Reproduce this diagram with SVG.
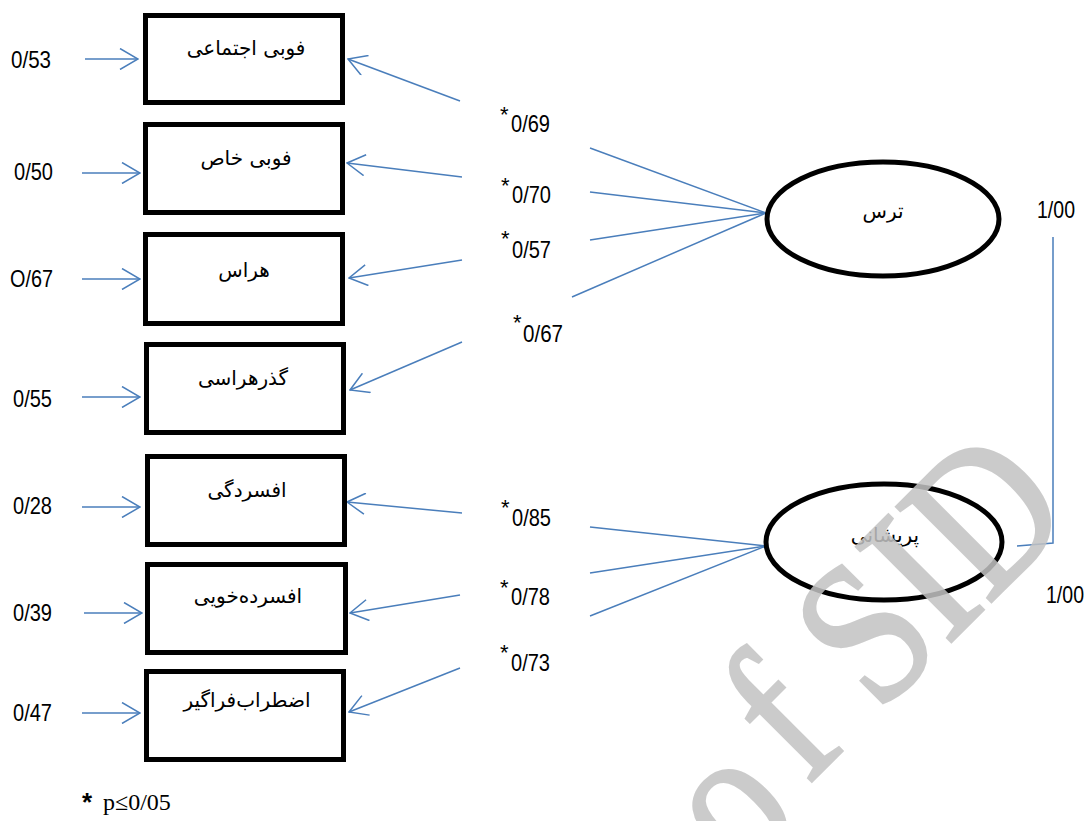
<svg xmlns="http://www.w3.org/2000/svg" width="1089" height="821" viewBox="0 0 1089 821">
<style>
.box{fill:#fff;stroke:#000;stroke-width:5}
.ell{fill:#fff;stroke:#000;stroke-width:5}
.ar{font-family:"DejaVu Sans",sans-serif;font-size:20px;fill:#000;text-anchor:middle}
.num{font-family:"Liberation Sans",Arial,sans-serif;font-size:24px;fill:#000}
.ast{font-family:"Liberation Sans",Arial,sans-serif;font-size:22px;fill:#000}
.ln{stroke:#4a7ebb;stroke-width:1.5;fill:none}
.arr{stroke:#4a7ebb;stroke-width:1.5;fill:none;marker-end:url(#oa)}
.wm{font-family:"Liberation Serif","Times New Roman",serif;font-size:205px;fill:#c3c3c3;stroke:#c3c3c3;stroke-width:3}
</style>
<defs>
<marker id="oa" markerUnits="userSpaceOnUse" viewBox="0 0 20 22" refX="19" refY="11" markerWidth="20" markerHeight="22" orient="auto">
<path d="M1,0.5 L19,11 L1,21.5" fill="none" stroke="#4a7ebb" stroke-width="1.5"/>
</marker>
</defs>
<rect width="1089" height="821" fill="#fff"/>

<g id="connectors">
<line class="arr" x1="85" y1="59" x2="138" y2="59"/>
<line class="arr" x1="82" y1="173" x2="140" y2="173"/>
<line class="arr" x1="82" y1="279" x2="140" y2="279"/>
<line class="arr" x1="82" y1="397" x2="140" y2="397"/>
<line class="arr" x1="82" y1="507" x2="140" y2="507"/>
<line class="arr" x1="84" y1="613" x2="142" y2="613"/>
<line class="arr" x1="82" y1="713" x2="140" y2="713"/>
<line class="arr" x1="460" y1="101" x2="348" y2="59"/>
<line class="arr" x1="462" y1="177" x2="347" y2="163"/>
<line class="arr" x1="462" y1="260" x2="349" y2="278"/>
<line class="arr" x1="462" y1="342" x2="350" y2="390"/>
<line class="arr" x1="462" y1="513" x2="347" y2="502"/>
<line class="arr" x1="460" y1="595" x2="350" y2="613"/>
<line class="arr" x1="460" y1="668" x2="349" y2="712"/>
<line class="ln" x1="590" y1="148" x2="766" y2="213"/>
<line class="ln" x1="590" y1="192" x2="766" y2="213"/>
<line class="ln" x1="590" y1="240" x2="766" y2="213"/>
<line class="ln" x1="572" y1="297" x2="766" y2="213"/>
<line class="ln" x1="590" y1="527" x2="766" y2="546"/>
<line class="ln" x1="590" y1="573" x2="766" y2="546"/>
<line class="ln" x1="590" y1="616" x2="766" y2="546"/>
<polyline class="ln" points="1053,237 1053,543 1017,546"/>
</g>

<g id="n1"><rect class="box" x="145.5" y="15.5" width="197" height="87"/><text class="ar" x="246" y="55">فوبی اجتماعی</text></g>
<g id="n2"><rect class="box" x="145.5" y="124.5" width="197" height="88"/><text class="ar" x="246" y="165">فوبی خاص</text></g>
<g id="n3"><rect class="box" x="145.5" y="234.5" width="197" height="89"/><text class="ar" x="244" y="277">هراس</text></g>
<g id="n4"><rect class="box" x="146.5" y="344.5" width="197" height="88"/><text class="ar" x="243" y="385">گذرهراسی</text></g>
<g id="n5"><rect class="box" x="147.5" y="456.5" width="197" height="88"/><text class="ar" x="247" y="497">افسردگی</text></g>
<g id="n6"><rect class="box" x="147.5" y="564.5" width="198" height="88"/><text class="ar" x="248" y="603">افسرده‌خویی</text></g>
<g id="n7"><rect class="box" x="146.5" y="671.5" width="197" height="88"/><text class="ar" x="247" y="707">اضطراب‌فراگیر</text></g>

<g id="e1"><ellipse class="ell" cx="883" cy="219" rx="116" ry="57"/><text class="ar" x="883" y="218">ترس</text></g>
<g id="e2"><ellipse class="ell" cx="884" cy="542" rx="118" ry="58"/><text class="ar" x="885" y="542">پریشانی</text></g>

<g id="labels">
<text class="num" x="11" y="68" textLength="40" lengthAdjust="spacingAndGlyphs">0/53</text>
<text class="num" x="14" y="180" textLength="39" lengthAdjust="spacingAndGlyphs">0/50</text>
<text class="num" x="10" y="287" textLength="43" lengthAdjust="spacingAndGlyphs">O/67</text>
<text class="num" x="13" y="407" textLength="39" lengthAdjust="spacingAndGlyphs">0/55</text>
<text class="num" x="13" y="514" textLength="39" lengthAdjust="spacingAndGlyphs">0/28</text>
<text class="num" x="13" y="621" textLength="39" lengthAdjust="spacingAndGlyphs">0/39</text>
<text class="num" x="13" y="721" textLength="39" lengthAdjust="spacingAndGlyphs">0/47</text>

<text class="ast" x="500" y="122">*</text><text class="num" x="511" y="132" textLength="39" lengthAdjust="spacingAndGlyphs">0/69</text>
<text class="ast" x="501" y="193">*</text><text class="num" x="512" y="203" textLength="39" lengthAdjust="spacingAndGlyphs">0/70</text>
<text class="ast" x="501" y="246">*</text><text class="num" x="512" y="258" textLength="39" lengthAdjust="spacingAndGlyphs">0/57</text>
<text class="ast" x="513" y="330">*</text><text class="num" x="523" y="342" textLength="40" lengthAdjust="spacingAndGlyphs">0/67</text>
<text class="ast" x="501" y="515">*</text><text class="num" x="512" y="526" textLength="39" lengthAdjust="spacingAndGlyphs">0/85</text>
<text class="ast" x="500" y="595">*</text><text class="num" x="511" y="605" textLength="39" lengthAdjust="spacingAndGlyphs">0/78</text>
<text class="ast" x="500" y="660">*</text><text class="num" x="511" y="671" textLength="39" lengthAdjust="spacingAndGlyphs">0/73</text>

<text class="num" x="1037" y="218" textLength="38" lengthAdjust="spacingAndGlyphs">1/00</text>
<text class="num" x="1046" y="603" textLength="38" lengthAdjust="spacingAndGlyphs">1/00</text>

<text x="82" y="811" font-family="Liberation Sans,Arial,sans-serif" font-size="26" font-weight="bold">*</text>
<text x="103" y="810" font-family="Liberation Serif,Times New Roman,serif" font-size="24">p≤0/05</text>
</g>

<g id="watermark" opacity="0.85" transform="translate(744.8,848.2) rotate(-45) scale(0.85,1)">
<text class="wm" x="-29" y="21">o</text>
<text class="wm" x="102.5" y="0">f SID</text>
</g>
</svg>
